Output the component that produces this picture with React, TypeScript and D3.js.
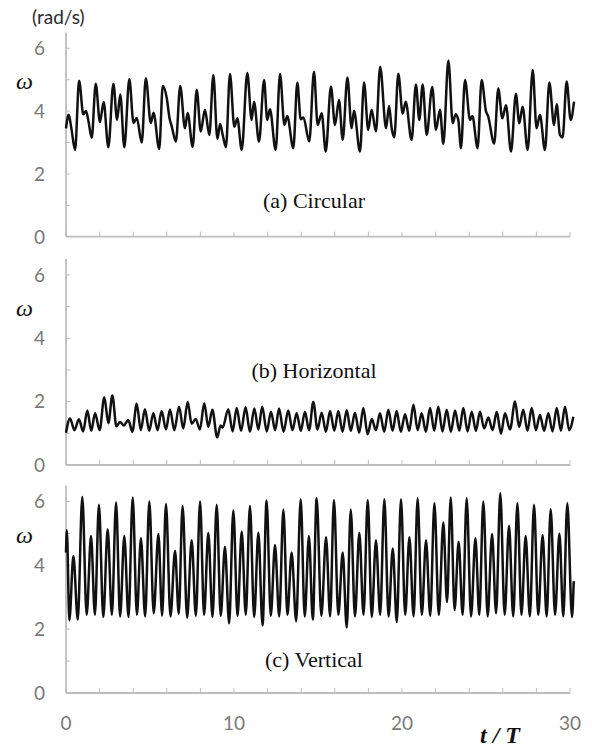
import React from "react";
import * as d3 from "d3";

// Angular velocity ω (rad/s) against t/T, read as successive extrema [t/T, ω]
const circular: [number, number][] = [
  [0,3.45],[0.16,3.88],[0.32,3.45],[0.54,2.76],[0.78,4.97],[1.03,3.90],[1.19,4.00],[1.33,3.70],[1.53,3.15],[1.77,4.87],
  [2.02,3.65],[2.24,4.29],[2.52,2.85],[2.82,4.87],[3.04,3.72],[3.23,4.53],[3.47,2.85],[3.77,5.02],[4.02,3.62],[4.21,3.78],
  [4.51,3.00],[4.75,5.05],[5.05,3.62],[5.21,3.95],[5.55,2.79],[5.76,4.80],[6.00,4.41],[6.16,3.78],[6.30,3.50],[6.54,3.03],
  [6.80,4.80],[7.08,3.45],[7.24,3.94],[7.54,2.86],[7.78,4.68],[8.02,3.35],[8.27,4.04],[8.53,3.24],[8.77,5.15],[9.01,3.11],
  [9.17,3.59],[9.33,3.24],[9.52,2.85],[9.76,5.18],[10.02,3.50],[10.20,3.77],[10.46,2.76],[10.79,5.21],[11.05,3.72],[11.19,4.30],
  [11.49,3.03],[11.79,4.99],[11.98,3.72],[12.14,4.06],[12.48,2.76],[12.74,5.18],[13.00,3.56],[13.17,3.84],[13.53,2.82],[13.77,4.91],
  [13.97,3.74],[14.13,3.80],[14.48,3.03],[14.76,5.25],[14.98,3.56],[15.22,3.93],[15.46,2.71],[15.77,4.78],[16.01,3.56],[16.25,4.35],
  [16.47,3.08],[16.75,5.07],[17.00,3.45],[17.14,4.01],[17.50,2.71],[17.74,4.91],[17.99,3.40],[18.19,4.04],[18.45,3.35],[18.70,5.41],
  [19.05,3.45],[19.23,4.16],[19.38,3.48],[19.54,3.16],[19.78,5.19],[20.04,3.92],[20.22,4.30],[20.57,3.08],[20.83,4.85],[21.03,3.72],
  [21.23,4.85],[21.47,3.24],[21.80,4.77],[22.02,3.40],[22.26,4.04],[22.46,2.95],[22.76,5.61],[23.02,3.61],[23.19,3.90],[23.35,3.72],
  [23.51,2.82],[23.75,4.99],[24.05,3.72],[24.19,3.84],[24.50,2.82],[24.74,4.99],[25.00,3.99],[25.12,3.85],[25.49,2.97],[25.73,4.72],
  [25.97,3.77],[26.19,4.19],[26.49,2.71],[26.78,4.55],[26.98,3.61],[27.18,4.14],[27.48,2.76],[27.78,5.31],[28.01,3.45],[28.21,3.88],
  [28.51,2.76],[28.77,4.91],[29.05,3.56],[29.21,4.22],[29.40,3.24],[29.56,3.16],[29.80,4.94],[30.04,3.72],[30.24,4.30],
];

const horizontal: [number, number][] = [
  [0,1.02],[0.24,1.47],[0.50,1.10],[0.77,1.44],[1.02,1.06],[1.27,1.72],[1.50,1.08],[1.73,1.63],[2.00,1.10],[2.28,2.14],
  [2.52,1.32],[2.76,2.19],[3.00,1.22],[3.21,1.36],[3.45,1.25],[3.71,1.42],[3.95,1.05],[4.21,1.93],[4.45,1.10],[4.70,1.76],
  [4.95,1.08],[5.20,1.63],[5.45,1.10],[5.69,1.70],[5.95,1.12],[6.19,1.75],[6.45,1.10],[6.73,1.84],[6.98,1.15],[7.24,1.99],
  [7.48,1.30],[7.72,1.45],[7.97,1.12],[8.23,1.95],[8.47,1.20],[8.71,1.74],[9.00,0.87],[9.20,1.25],[9.32,1.18],[9.66,1.76],
  [9.92,1.06],[10.16,1.80],[10.42,1.08],[10.69,1.82],[10.95,1.05],[11.21,1.78],[11.45,1.12],[11.68,1.84],[11.95,1.06],[12.20,1.68],
  [12.45,1.10],[12.68,1.78],[12.95,1.05],[13.23,1.72],[13.48,1.10],[13.73,1.63],[13.98,1.08],[14.22,1.68],[14.47,1.10],[14.72,1.99],
  [14.97,1.12],[15.22,1.65],[15.47,1.05],[15.72,1.70],[15.97,1.08],[16.21,1.70],[16.46,1.05],[16.71,1.73],[16.95,1.08],[17.20,1.65],
  [17.45,1.02],[17.70,1.80],[17.95,0.97],[18.20,1.45],[18.45,1.10],[18.69,1.63],[18.94,1.05],[19.19,1.74],[19.44,1.08],[19.68,1.70],
  [19.93,1.05],[20.18,1.60],[20.43,1.08],[20.68,1.90],[20.93,1.10],[21.17,1.63],[21.42,1.05],[21.67,1.80],[21.92,1.08],[22.16,1.84],
  [22.41,1.06],[22.66,1.74],[22.91,1.05],[23.16,1.72],[23.41,1.08],[23.65,1.80],[23.90,1.06],[24.15,1.68],[24.40,1.08],[24.64,1.68],
  [24.89,1.15],[25.14,1.50],[25.39,1.10],[25.64,1.68],[25.89,0.99],[26.13,1.63],[26.43,1.12],[26.73,2.00],[26.97,1.20],[27.22,1.74],
  [27.47,1.08],[27.72,1.80],[27.97,1.10],[28.21,1.58],[28.46,1.08],[28.71,1.63],[28.96,1.06],[29.21,1.80],[29.46,1.08],[29.70,1.84],
  [29.95,1.10],[30.20,1.52],
];

const vertical: [number, number][] = [
  [0,4.40],[0.05,5.10],[0.20,2.28],[0.44,4.29],[0.70,2.30],[0.97,6.15],[1.23,2.45],[1.49,4.92],[1.72,2.45],[1.96,5.90],
  [2.22,2.38],[2.48,5.13],[2.73,2.45],[2.98,5.97],[3.22,2.40],[3.47,4.92],[3.72,2.38],[3.97,6.13],[4.22,2.45],[4.46,4.85],
  [4.71,2.40],[4.96,6.00],[5.22,2.50],[5.50,4.98],[5.72,2.42],[5.95,5.92],[6.22,2.40],[6.49,4.46],[6.71,2.48],[6.94,5.86],
  [7.21,2.36],[7.48,4.79],[7.73,2.42],[7.98,6.00],[8.22,2.45],[8.47,5.02],[8.72,2.38],[8.97,5.90],[9.21,2.42],[9.46,4.58],
  [9.71,2.18],[9.96,5.72],[10.21,2.42],[10.46,5.06],[10.70,2.45],[10.95,5.86],[11.20,2.38],[11.45,5.02],[11.70,2.12],[11.94,6.03],
  [12.19,2.42],[12.44,4.64],[12.69,2.40],[12.94,5.74],[13.18,2.45],[13.43,4.40],[13.70,2.25],[13.97,6.07],[14.21,2.40],[14.46,4.92],
  [14.69,2.30],[14.92,6.10],[15.20,2.42],[15.48,4.88],[15.72,2.40],[15.95,6.05],[16.21,2.45],[16.47,4.40],[16.71,2.05],[16.95,5.74],
  [17.20,2.40],[17.46,5.02],[17.71,2.45],[17.96,6.05],[18.20,2.38],[18.45,4.79],[18.70,2.45],[18.95,6.07],[19.20,2.40],[19.45,4.53],
  [19.69,2.22],[19.94,6.07],[20.19,2.45],[20.44,4.88],[20.69,2.40],[20.93,6.10],[21.18,2.45],[21.43,4.79],[21.68,2.42],[21.93,5.95],
  [22.19,2.45],[22.46,5.34],[22.68,2.85],[22.90,6.13],[23.13,2.60],[23.37,4.74],[23.61,2.45],[23.85,6.10],[24.11,2.40],[24.37,4.85],
  [24.60,2.45],[24.84,6.00],[25.10,2.40],[25.36,4.98],[25.60,2.50],[25.85,6.26],[26.11,2.45],[26.37,5.24],[26.62,2.40],[26.87,5.95],
  [27.11,2.45],[27.36,4.92],[27.61,2.40],[27.86,5.90],[28.11,2.45],[28.37,4.95],[28.61,2.40],[28.85,5.76],[29.11,2.45],[29.37,5.00],
  [29.60,2.40],[29.84,5.95],[30.12,2.38],[30.22,3.50],
];

const panelTitles = ["(a) Circular", "(b) Horizontal", "(c) Vertical"];
const yTickLabels = [0, 2, 4, 6];
const yMinorTicks = [1, 2, 3, 4, 5, 6];
const xTickLabels = [0, 10, 20, 30];
const xMinorTicks = d3.range(0, 31, 2);
const unitLabel = "(rad/s)";
const axisSymbol = "ω";
const xAxisTitle = "t / T";

const W = 592;
const H = 747;
const AXIS = "#bdbdbd";
const LABEL = "#7a7a7a";
const SANS = "Lato, 'Open Sans', sans-serif";
const SERIF = "'Liberation Serif', 'Times New Roman', serif";

// panel frames: pixel row of ω = 0 and of ω = 6.5, title row in data units
const panels = [
  { data: circular, bottom: 236.7, top: 32.6, titleAt: 1.15 },
  { data: horizontal, bottom: 465, top: 259, titleAt: 3.0 },
  { data: vertical, bottom: 693, top: 485.6, titleAt: 1.05 },
];

const x = d3.scaleLinear().domain([0, 30]).range([66, 570]);

function Panel({ idx }: { idx: number }) {
  const p = panels[idx];
  const y = d3.scaleLinear().domain([0, 6.5]).range([p.bottom, p.top]);
  const line = d3
    .line<[number, number]>()
    .x((d) => x(d[0]))
    .y((d) => y(d[1]))
    .curve(d3.curveMonotoneX);
  const x0 = x(0);
  return (
    <g>
      {/* y axis */}
      <line x1={x0} x2={x0} y1={y(6.5)} y2={y(0)} stroke={AXIS} strokeWidth={1.8} />
      {yMinorTicks.map((v) => (
        <line key={"yt" + v} x1={x0} x2={x0 + 4} y1={y(v)} y2={y(v)} stroke={AXIS} strokeWidth={1} />
      ))}
      {yTickLabels.map((v) => (
        <text key={"yl" + v} x={45} y={y(v)} dy="0.36em" textAnchor="end" fontFamily={SANS} fontSize={19} fill={LABEL}>
          {v}
        </text>
      ))}
      {/* x axis */}
      <line x1={x0} x2={x(30)} y1={y(0)} y2={y(0)} stroke={AXIS} strokeWidth={1.8} />
      {xMinorTicks.map((v) => (
        <line key={"xt" + v} x1={x(v)} x2={x(v)} y1={y(0)} y2={y(0) - 5} stroke={AXIS} strokeWidth={1} />
      ))}
      {/* ω symbol */}
      <text x={16} y={y(4.93)} dy="0.3em" fontFamily={SERIF} fontStyle="italic" fontSize={24} fill="#111">
        {axisSymbol}
      </text>
      {/* panel caption */}
      <text x={314} y={y(p.titleAt)} dy="0.35em" textAnchor="middle" fontFamily={SERIF} fontSize={22} fill="#111">
        {panelTitles[idx]}
      </text>
      <path d={line(p.data) ?? ""} fill="none" stroke="#111" strokeWidth={2.5} strokeLinejoin="round" />
    </g>
  );
}

export default function App() {
  const yc = d3.scaleLinear().domain([0, 6.5]).range([panels[2].bottom, panels[2].top]);
  return (
    <svg width={W} height={H} style={{ position: "absolute", left: 0, top: 0, background: "#fff" }}>
      <rect width={W} height={H} fill="#fff" />
      <text x={32} y={24} fontFamily={SANS} fontSize={19} fill="#2a2a2a">
        {unitLabel}
      </text>
      {panels.map((_, i) => (
        <Panel key={i} idx={i} />
      ))}
      {xTickLabels.map((v) => (
        <text key={"xl" + v} x={x(v)} y={yc(0) + 30} dy="0.35em" textAnchor="middle" fontFamily={SANS} fontSize={19} fill={LABEL}>
          {v}
        </text>
      ))}
      <text x={500} y={743} textAnchor="middle" fontFamily={SERIF} fontStyle="italic" fontWeight="bold" fontSize={24} fill="#111">
        {xAxisTitle}
      </text>
    </svg>
  );
}
